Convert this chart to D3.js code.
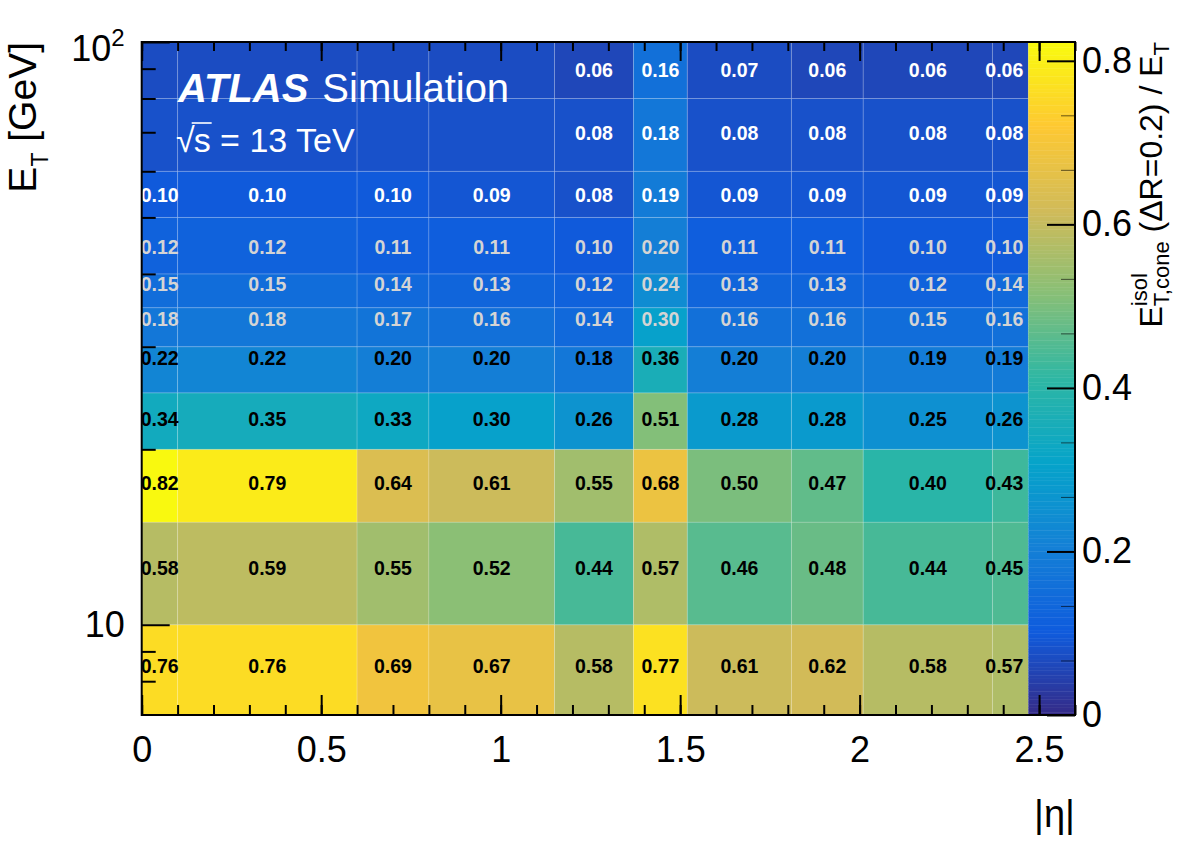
<!DOCTYPE html>
<html>
<head>
<meta charset="utf-8">
<script src="https://cdn.jsdelivr.net/npm/d3@7"></script>
<style>
  body { margin: 0; background: #fff; }
  svg { display: block; font-family: 'Liberation Sans', Arial, Helvetica, sans-serif; }
  text { white-space: pre; }
</style>
</head>
<body>
<svg id="chart" width="1182" height="853"></svg>
<script>
// |eta| bin edges and E_T bin edges (GeV)
const etaEdges = [0, 0.1, 0.6, 0.8, 1.15, 1.37, 1.52, 1.81, 2.01, 2.37, 2.47];
const etEdges = [7, 10, 15, 20, 25, 30, 35, 40, 50, 60, 80, 100];
// E_T where the numbers are printed, one per row
const labelEt = [8.5, 12.5, 17.5, 22.5, 28.7, 33.5, 38.4, 44.4, 54.7, 69.8, 89.6];

// E_T,cone^isol / E_T per row (low E_T first), one value per |eta| bin
const row7to10   = [0.76, 0.76, 0.69, 0.67, 0.58, 0.77, 0.61, 0.62, 0.58, 0.57];
const row10to15  = [0.58, 0.59, 0.55, 0.52, 0.44, 0.57, 0.46, 0.48, 0.44, 0.45];
const row15to20  = [0.82, 0.79, 0.64, 0.61, 0.55, 0.68, 0.50, 0.47, 0.40, 0.43];
const row20to25  = [0.34, 0.35, 0.33, 0.30, 0.26, 0.51, 0.28, 0.28, 0.25, 0.26];
const row25to30  = [0.22, 0.22, 0.20, 0.20, 0.18, 0.36, 0.20, 0.20, 0.19, 0.19];
const row30to35  = [0.18, 0.18, 0.17, 0.16, 0.14, 0.30, 0.16, 0.16, 0.15, 0.16];
const row35to40  = [0.15, 0.15, 0.14, 0.13, 0.12, 0.24, 0.13, 0.13, 0.12, 0.14];
const row40to50  = [0.12, 0.12, 0.11, 0.11, 0.10, 0.20, 0.11, 0.11, 0.10, 0.10];
const row50to60  = [0.10, 0.10, 0.10, 0.09, 0.08, 0.19, 0.09, 0.09, 0.09, 0.09];
const row60to80  = [0.08, 0.08, 0.08, 0.08, 0.08, 0.18, 0.08, 0.08, 0.08, 0.08];
const row80to100 = [0.07, 0.07, 0.07, 0.07, 0.06, 0.16, 0.07, 0.06, 0.06, 0.06];
const ratio = [row7to10, row10to15, row15to20, row20to25, row25to30, row30to35,
               row35to40, row40to50, row50to60, row60to80, row80to100];
// cells without a printed number (under the ATLAS label)
const hiddenText = [[9, 0], [9, 1], [9, 2], [9, 3], [10, 0], [10, 1], [10, 2], [10, 3]];

const etaTicks = [0, 0.5, 1, 1.5, 2, 2.5];
const etMajor = [10, 100];
const etMinor = [8, 9, 20, 30, 40, 50, 60, 70, 80, 90];
const zTicks = [0, 0.2, 0.4, 0.6, 0.8];
const zMax = 0.823;

// ROOT kBird palette
const birdStops = [0, 0.125, 0.25, 0.375, 0.5, 0.625, 0.75, 0.875, 1];
const birdR = [0.2082, 0.0592, 0.0780, 0.0232, 0.1802, 0.5301, 0.8186, 0.9956, 0.9764];
const birdG = [0.1664, 0.3599, 0.5041, 0.6419, 0.7178, 0.7492, 0.7328, 0.7862, 0.9832];
const birdB = [0.5293, 0.8684, 0.8385, 0.7914, 0.6425, 0.4662, 0.3499, 0.1968, 0.0539];
const bird = d3.scaleLinear()
    .domain(birdStops)
    .range(birdStops.map((s, i) => d3.rgb(birdR[i] * 255, birdG[i] * 255, birdB[i] * 255)))
    .interpolate(d3.interpolateRgb)
    .clamp(true);
const color = v => bird(v / zMax);

const svg = d3.select('#chart');
const font = "'Liberation Sans', Arial, Helvetica, sans-serif";

const x = d3.scaleLinear().domain([0, 2.6]).range([141.7, 1075]);
const y = d3.scaleLog().domain([7, 100]).range([715, 42]);
const z = d3.scaleLinear().domain([0, zMax]).range([715, 42]);
const palLeft = x(etaEdges[etaEdges.length - 1]);

// cells
const cells = [];
ratio.forEach((row, i) => row.forEach((v, j) => cells.push({ i, j, v })));

svg.append('g').selectAll('rect')
    .data(cells)
    .join('rect')
    .attr('x', d => x(etaEdges[d.j]))
    .attr('width', d => x(etaEdges[d.j + 1]) - x(etaEdges[d.j]))
    .attr('y', d => y(etEdges[d.i + 1]))
    .attr('height', d => y(etEdges[d.i]) - y(etEdges[d.i + 1]))
    .attr('fill', d => color(d.v))
    .attr('stroke', 'rgba(255,255,255,0.16)')
    .attr('stroke-width', 1);

// palette
const nBands = 255;
svg.append('g').selectAll('rect')
    .data(d3.range(nBands))
    .join('rect')
    .attr('x', palLeft)
    .attr('width', x.range()[1] - palLeft)
    .attr('y', k => z((k + 1) * zMax / nBands))
    .attr('height', k => z(k * zMax / nBands) - z((k + 1) * zMax / nBands) + 0.4)
    .attr('fill', k => bird((k + 0.5) / nBands));

// printed numbers
const isHidden = d => hiddenText.some(h => h[0] === d.i && h[1] === d.j);
const textColor = d => etEdges[d.i] < 30 ? '#000' : (etEdges[d.i] < 50 ? '#d4d4d4' : '#fff');

svg.append('g').selectAll('text')
    .data(cells.filter(d => !isHidden(d)))
    .join('text')
    .attr('x', d => Math.min(x((etaEdges[d.j] + etaEdges[d.j + 1]) / 2), palLeft - 24))
    .attr('y', d => y(labelEt[d.i]))
    .attr('dy', '0.35em')
    .attr('text-anchor', 'middle')
    .attr('font-size', 19.5)
    .attr('font-weight', 'bold')
    .attr('fill', textColor)
    .text(d => d3.format('.2f')(d.v));

// ATLAS label
const lab = svg.append('g').attr('fill', '#fff');
const atlas = lab.append('text')
    .attr('x', 178).attr('y', 102)
    .attr('font-size', 40).attr('font-weight', 'bold').attr('font-style', 'italic')
    .text('ATLAS');
lab.append('text')
    .attr('x', 178 + atlas.node().getComputedTextLength() + 14).attr('y', 102)
    .attr('font-size', 40)
    .text('Simulation');

const root = lab.append('text').attr('x', 176).attr('y', 152).attr('font-size', 34).text('√');
const sX = 176 + root.node().getComputedTextLength() - 1;
const sTxt = lab.append('text').attr('x', sX).attr('y', 152).attr('font-size', 34).text('s');
const sW = sTxt.node().getComputedTextLength();
lab.append('line')
    .attr('x1', sX - 2).attr('x2', sX + sW + 1)
    .attr('y1', 123).attr('y2', 123)
    .attr('stroke', '#fff').attr('stroke-width', 1.6);
lab.append('text').attr('x', sX + sW).attr('y', 152).attr('font-size', 34).text(' = 13 TeV');

// axes
function styleAxis(g) {
    g.select('.domain').remove();
    g.attr('font-family', font);
    g.selectAll('.tick line').attr('stroke', '#000').attr('stroke-width', 2);
    g.selectAll('.tick text').attr('fill', '#000').attr('font-size', 36);
}

svg.append('g').attr('transform', 'translate(0,715)')
    .call(d3.axisBottom(x).tickValues(etaTicks).tickSize(-20).tickPadding(21).tickFormat(d3.format('~g')))
    .call(styleAxis);
svg.append('g').attr('transform', 'translate(0,715)')
    .call(d3.axisBottom(x).tickValues(d3.range(0, 2.61, 0.1)).tickSize(-10).tickFormat(''))
    .call(styleAxis);
svg.append('g').attr('transform', 'translate(0,42)')
    .call(d3.axisTop(x).tickValues(etaTicks).tickSize(-19).tickFormat(''))
    .call(styleAxis);
svg.append('g').attr('transform', 'translate(0,42)')
    .call(d3.axisTop(x).tickValues(d3.range(0, 2.61, 0.1)).tickSize(-9).tickFormat(''))
    .call(styleAxis);

const gy = svg.append('g').attr('transform', `translate(${x(0)},0)`)
    .call(d3.axisLeft(y).tickValues(etMajor).tickSize(-28).tickPadding(17).tickFormat(() => '10'))
    .call(styleAxis);
gy.selectAll('.tick text').filter(d => d === 100)
    .attr('dy', '0.5em')
    .append('tspan').attr('dy', -15).attr('font-size', 24).text('2');
svg.append('g').attr('transform', `translate(${x(0)},0)`)
    .call(d3.axisLeft(y).tickValues(etMinor).tickSize(-14).tickFormat(''))
    .call(styleAxis);

svg.append('g').attr('transform', `translate(${x.range()[1]},0)`)
    .call(d3.axisRight(z).tickValues(zTicks).tickSize(-28).tickPadding(7).tickFormat(d3.format('~g')))
    .call(styleAxis);
svg.append('g').attr('transform', `translate(${x.range()[1]},0)`)
    .call(d3.axisRight(z).tickValues(d3.range(0.2 / 3, 0.8, 0.2 / 3).filter((v, k) => (k + 1) % 3 !== 0)).tickSize(-14).tickFormat(''))
    .call(styleAxis)
    .call(g => g.selectAll('.tick line').attr('stroke-width', 1).attr('opacity', 0.6));

// frame
svg.append('rect')
    .attr('x', x(0)).attr('y', 42)
    .attr('width', x.range()[1] - x(0)).attr('height', 673)
    .attr('fill', 'none').attr('stroke', '#000').attr('stroke-width', 2);

// rotated title built from pieces, ending at the top of the frame
function rotatedTitle(baseX, pieces) {
    const outer = svg.append('g').attr('transform', `translate(${baseX},42) rotate(-90)`);
    const inner = outer.append('g');
    let cx = 0;
    pieces.forEach(p => {
        if (p.stack) {
            let w = 0;
            p.stack.forEach(s => {
                const t = inner.append('text').attr('x', cx).attr('y', s.shift)
                    .attr('font-size', s.size).text(s.text);
                w = Math.max(w, t.node().getComputedTextLength());
            });
            cx += w;
        } else {
            const t = inner.append('text').attr('x', cx).attr('y', p.shift || 0)
                .attr('font-size', p.size).text(p.text);
            cx += t.node().getComputedTextLength();
        }
    });
    inner.attr('transform', `translate(${-cx},0)`);
}

rotatedTitle(36, [
    { text: 'E', size: 39 },
    { text: 'T', size: 23, shift: 12 },
    { text: ' [GeV]', size: 39 }
]);

rotatedTitle(1162, [
    { text: 'E', size: 32 },
    { stack: [{ text: 'isol', size: 22, shift: -15 }, { text: 'T,cone', size: 22, shift: 7 }] },
    { text: ' (ΔR=0.2) / E', size: 32 },
    { text: 'T', size: 22, shift: 7 }
]);

svg.append('text')
    .attr('x', x.range()[1]).attr('y', 827)
    .attr('text-anchor', 'end')
    .attr('font-size', 38)
    .text('|η|');
</script>
</body>
</html>
